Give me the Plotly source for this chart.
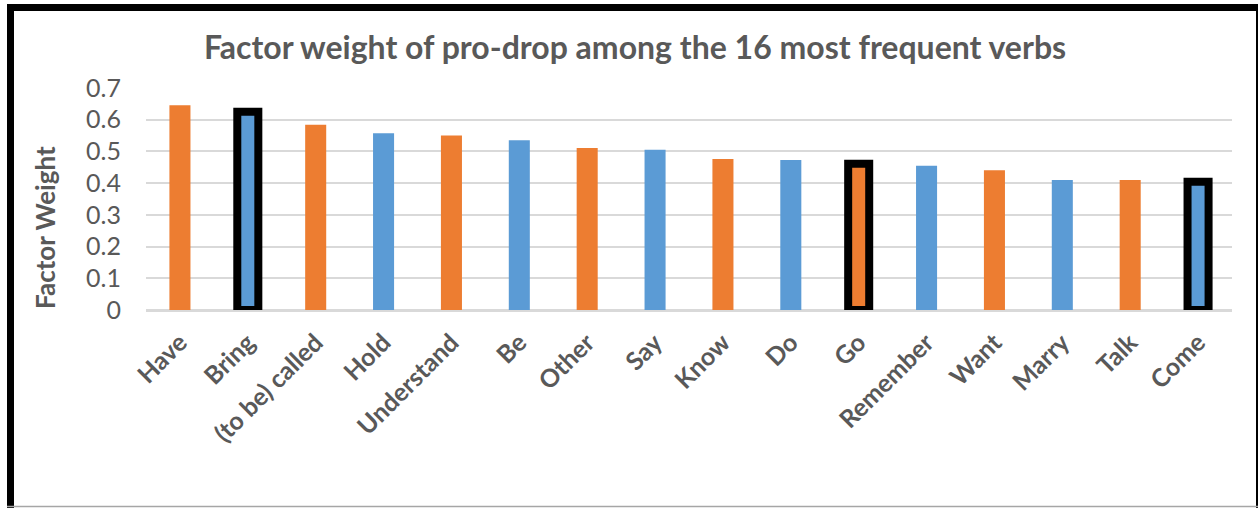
import plotly.graph_objects as go

categories = ["Have", "Bring", "(to be) called", "Hold", "Understand", "Be", "Other", "Say",
              "Know", "Do", "Go", "Remember", "Want", "Marry", "Talk", "Come"]
weights = [0.646, 0.625, 0.584, 0.557, 0.550, 0.535, 0.511, 0.505,
           0.476, 0.473, 0.461, 0.455, 0.441, 0.410, 0.410, 0.404]
highlighted = ["Bring", "Go", "Come"]
y_ticks = [0, 0.1, 0.2, 0.3, 0.4, 0.5, 0.6, 0.7]
y_tick_labels = ["0", "0.1", "0.2", "0.3", "0.4", "0.5", "0.6", "0.7"]
title_text = "Factor weight of pro-drop among the 16 most frequent verbs"
y_title = "Factor Weight"

ORANGE = "#ED7D31"
BLUE = "#5B9BD5"
GRAY = "#595959"

colors = [ORANGE if i % 2 == 0 else BLUE for i in range(len(categories))]
line_widths = [8 if c in highlighted else 0 for c in categories]

W, H = 1258, 508
L, R, T, B = 146, 1232, 88, 310  # plot area in pixels


def px_x(px):
    return (px - L) / (R - L)


def px_y(py):
    return (B - py) / (B - T)


fig = go.Figure()
fig.add_trace(go.Bar(
    x=categories, y=weights,
    marker=dict(color=colors, line=dict(color="black", width=line_widths)),
    showlegend=False,
))

fig.update_layout(
    width=W, height=H,
    margin=dict(l=L, r=W - R, t=T, b=H - B),
    paper_bgcolor="white", plot_bgcolor="white",
    bargap=0.69,
    font=dict(family="Lato", color=GRAY),
    title=dict(text="<b>" + title_text + "</b>", x=635 / W, xanchor="center",
               y=1 - 48 / H, yanchor="middle",
               font=dict(family="Lato", size=32, color=GRAY)),
)
fig.update_yaxes(
    range=[0, 0.7], tickvals=y_ticks, ticktext=y_tick_labels,
    showgrid=True, gridcolor="#D9D9D9", gridwidth=2,
    zeroline=True, zerolinecolor="#D9D9D9", zerolinewidth=3,
    showline=False, ticks="", ticklabelstandoff=24,
    tickfont=dict(family="Lato", size=25, color=GRAY),
)
fig.update_xaxes(
    tickangle=-45, showgrid=False, showline=False, ticks="",
    ticklabelstandoff=12,
    tickfont=dict(family="Lato", size=25, color=GRAY, weight="bold"),
)
fig.add_annotation(
    text="<b>" + y_title + "</b>", xref="paper", yref="paper",
    x=px_x(45), y=px_y(228), textangle=-90, showarrow=False,
    xanchor="center", yanchor="middle",
    font=dict(family="Lato", size=26, color=GRAY),
)
# outer frame
fig.add_shape(type="rect", xref="paper", yref="paper",
              x0=px_x(10.5), x1=px_x(1259.5), y0=px_y(520), y1=px_y(7.5),
              line=dict(color="black", width=7), fillcolor="rgba(0,0,0,0)", layer="above")
fig.add_shape(type="line", xref="paper", yref="paper",
              x0=px_x(7), x1=px_x(1258), y0=px_y(506.5), y1=px_y(506.5),
              line=dict(color="#A6A6A6", width=1.5))

fig.write_html("out.html")
